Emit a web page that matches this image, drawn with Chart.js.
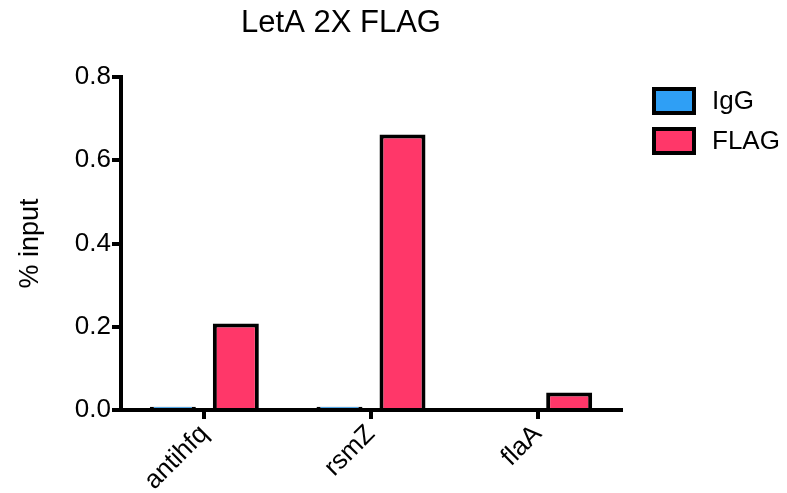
<!DOCTYPE html>
<html>
<head>
<meta charset="utf-8">
<script src="https://cdn.jsdelivr.net/npm/chart.js@4"></script>
<style>
  html, body { margin: 0; padding: 0; background: #fff; }
  #wrap { width: 787px; height: 493px; }
</style>
</head>
<body>
<div id="wrap"><canvas id="chart" width="787" height="493"></canvas></div>
<script>
// data
const categories = ["antihfq", "rsmZ", "flaA"];
const iggValues = [0.008, 0.008, 0];
const flagValues = [0.208, 0.662, 0.042];
const yTicks = [0, 0.2, 0.4, 0.6, 0.8];

const FONT = "'Liberation Sans', Arial, Helvetica, sans-serif";

// title and legend drawn by hand so they sit where the reference has them
const decor = {
  id: "decor",
  afterDraw(chart) {
    const ctx = chart.ctx;
    ctx.save();
    ctx.fillStyle = "#000";
    ctx.font = "31px " + FONT;
    ctx.textAlign = "center";
    ctx.textBaseline = "middle";
    ctx.fillText("LetA 2X FLAG", 341, 23);

    ctx.font = "26px " + FONT;
    ctx.textAlign = "left";
    chart.data.datasets.forEach((ds, i) => {
      const y = 89 + i * 40;
      ctx.fillStyle = ds.backgroundColor;
      ctx.fillRect(654, y, 40, 24);
      ctx.lineWidth = 4;
      ctx.strokeStyle = "#000";
      ctx.strokeRect(654, y, 40, 24);
      ctx.fillStyle = "#000";
      ctx.fillText(ds.label, 712, y + 13);
    });
    ctx.restore();
  }
};

new Chart(document.getElementById("chart"), {
  type: "bar",
  data: {
    labels: categories,
    datasets: [
      { label: "IgG", data: iggValues, backgroundColor: "#2f9ff5", borderColor: "#000", borderWidth: 4 },
      { label: "FLAG", data: flagValues, backgroundColor: "#ff3769", borderColor: "#000", borderWidth: 4 }
    ]
  },
  options: {
    responsive: false,
    animation: false,
    devicePixelRatio: 1,
    categoryPercentage: 0.756,
    barPercentage: 0.73,
    layout: { padding: { top: 77, right: 166, bottom: 0, left: 0 } },
    plugins: {
      legend: { display: false },
      title: { display: false },
      tooltip: { enabled: false }
    },
    scales: {
      x: {
        grid: { display: true, offset: false, drawOnChartArea: false, color: "#000", lineWidth: 4, tickLength: 9 },
        border: { display: true, color: "#000", width: 4 },
        ticks: {
          color: "#000",
          font: { family: FONT, size: 26 },
          maxRotation: 45,
          minRotation: 45,
          padding: 0
        },
        afterFit(scale) { scale.height = 83; }
      },
      y: {
        min: 0,
        max: 0.8,
        afterBuildTicks(scale) { scale.ticks = yTicks.map(v => ({ value: v })); },
        grid: { display: true, drawOnChartArea: false, color: "#000", lineWidth: 4, tickLength: 9 },
        border: { display: true, color: "#000", width: 4 },
        ticks: {
          color: "#000",
          font: { family: FONT, size: 26 },
          padding: 1,
          callback: v => Number(v).toFixed(1)
        },
        title: {
          display: true,
          text: "% input",
          color: "#000",
          font: { family: FONT, size: 27 },
          padding: { top: 14, bottom: 0 }
        },
        afterFit(scale) { scale.width = 121; }
      }
    }
  },
  plugins: [decor]
});
</script>
</body>
</html>
